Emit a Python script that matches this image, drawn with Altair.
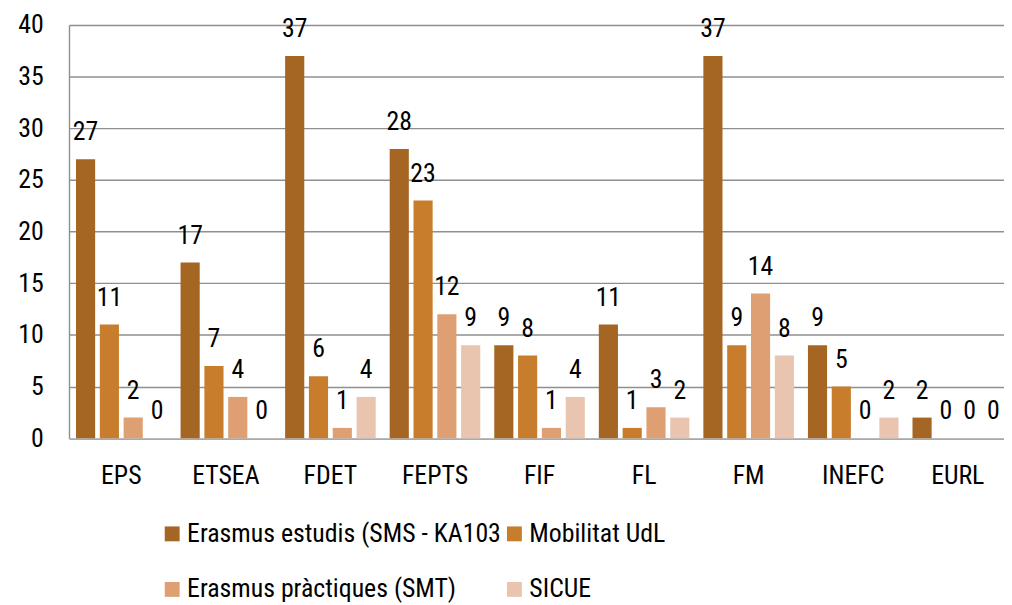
import altair as alt
import pandas as pd

centres = ["EPS", "ETSEA", "FDET", "FEPTS", "FIF", "FL", "FM", "INEFC", "EURL"]
series = [
    "Erasmus estudis (SMS - KA103",
    "Mobilitat UdL",
    "Erasmus pràctiques (SMT)",
    "SICUE",
]
erasmus_estudis = [27, 17, 37, 28, 9, 11, 37, 9, 2]
mobilitat_udl = [11, 7, 6, 23, 8, 1, 9, 5, 0]
erasmus_practiques = [2, 4, 1, 12, 1, 3, 14, 0, 0]
sicue = [0, 0, 4, 9, 4, 2, 8, 2, 0]
colors = ["#A56523", "#C87D2D", "#DEA073", "#E9C4AF"]
y_ticks = [0, 5, 10, 15, 20, 25, 30, 35, 40]

rows = []
for s, vals in zip(series, [erasmus_estudis, mobilitat_udl, erasmus_practiques, sicue]):
    for c, v in zip(centres, vals):
        rows.append({"Centre": c, "Tipus": s, "Valor": v})
df = pd.DataFrame(rows)

FONT = ("Roboto Condensed, Noto Sans ExtraCondensed, Noto Sans Condensed, "
        "Open Sans Condensed, Liberation Sans Narrow, DejaVu Sans Condensed, sans-serif")
FS = 26
GRID = "#8f8f8f"

base = alt.Chart(df).encode(
    x=alt.X(
        "Centre:N",
        sort=centres,
        scale=alt.Scale(range=[0, 948.6], paddingInner=0, paddingOuter=0),
        axis=alt.Axis(
            title=None,
            labelAngle=0,
            ticks=False,
            tickSize=0,
            domain=False,
            labelFont=FONT,
            labelFontSize=FS,
            labelColor="#000000",
            labelBaseline="alphabetic",
            labelPadding=46,
        ),
    ),
    xOffset=alt.XOffset(
        "Tipus:N",
        sort=series,
        scale=alt.Scale(paddingInner=0.196, paddingOuter=0.294),
    ),
    y=alt.Y(
        "Valor:Q",
        scale=alt.Scale(domain=[0, 40], nice=False),
        axis=alt.Axis(
            title=None,
            values=y_ticks,
            grid=True,
            gridColor=GRID,
            gridWidth=1.4,
            gridOpacity=1,
            domain=True,
            domainColor=GRID,
            domainWidth=1.4,
            ticks=False,
            tickSize=0,
            labelFont=FONT,
            labelFontSize=FS,
            labelColor="#000000",
            labelPadding=26,
        ),
    ),
)

bars = base.mark_bar(strokeWidth=0).encode(
    color=alt.Color(
        "Tipus:N",
        sort=series,
        scale=alt.Scale(domain=series, range=colors),
        legend=alt.Legend(
            title=None,
            orient="none",
            legendX=91,
            legendY=500,
            direction="horizontal",
            columns=2,
            symbolType="square",
            symbolSize=225,
            symbolStrokeWidth=0,
            labelFont=FONT,
            labelFontSize=FS,
            labelColor="#000000",
            labelOffset=2,
            labelLimit=500,
            rowPadding=30,
            columnPadding=0,
            padding=0,
        ),
    )
)

labels = base.mark_text(
    dy=-19, baseline="alphabetic", align="center", font=FONT, fontSize=FS, color="#000000"
).encode(text=alt.Text("Valor:Q"))

chart = (
    alt.layer(bars, labels)
    .properties(
        width=942.5,
        height=416.6,
        autosize=alt.AutoSizeParams(type="none"),
        padding={"left": 61.5, "top": 14.7, "right": 0, "bottom": 165},
    )
    .configure_view(stroke=None)
    .configure(background="#ffffff")
)

chart.save("out.html", embed_options={"renderer": "svg", "actions": False})
